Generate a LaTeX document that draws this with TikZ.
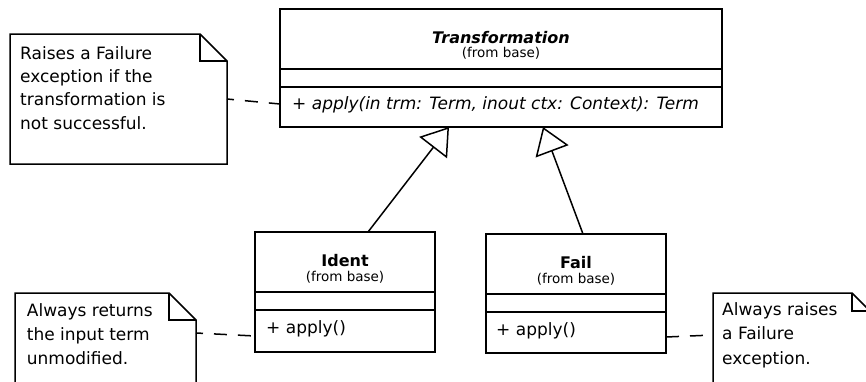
\documentclass[tikz,border=0pt]{standalone}
\usepackage{fontspec}
\setmainfont{DejaVu Sans}
\usetikzlibrary{arrows.meta}

\tikzset{
  umlline/.style={line width=1.5pt, line join=miter},
  part/.style={draw, umlline, inner sep=0pt, outer sep=0pt, minimum width=#1},
  notebox/.style={inner sep=0pt, outer sep=0pt, anchor=north west},
  classtitle/.style={inner sep=0pt, font=\fontsize{16}{19}\selectfont\bfseries},
  fromtext/.style={inner sep=0pt, font=\fontsize{13.5}{16}\selectfont},
  optext/.style={inner sep=0pt, anchor=base west, font=\fontsize{17}{20}\selectfont},
  notetext/.style={inner sep=0pt, anchor=north west, align=left},
  anchorline/.style={umlline, dash pattern=on 13pt off 11pt},
  inherit/.style={umlline, -{Triangle[open, length=26pt, width=35pt, fill=white]}},
}

% draws a note outline with a folded corner of size #2 around node #1
\newcommand{\noteoutline}[2]{%
  \draw[umlline] (#1.north west) -- ([xshift=-#2]#1.north east)
    -- ([yshift=-#2]#1.north east) -- (#1.south east) -- (#1.south west) -- cycle;
  \draw[umlline] ([xshift=-#2]#1.north east) |- ([yshift=-#2]#1.north east);
}

\begin{document}
\begin{tikzpicture}[x=1pt, y=-1pt]
\useasboundingbox (0,0) rectangle (866,381);
\clip (0,0) rectangle (866,381);

% ---- class Transformation ----
\node[part=442pt, minimum height=60pt, anchor=north west] (tname) at (280,9) {};
\node[part=442pt, minimum height=18pt, anchor=north] (tattr) at (tname.south) {};
\node[part=442pt, minimum height=40pt, anchor=north] (tops) at (tattr.south) {};
\node[classtitle, anchor=base] at ([yshift=-34pt]tname.north) {\textit{Transformation}};
\node[fromtext, anchor=base] at ([yshift=-48.5pt]tname.north) {(from base)};
\node[optext] at ([shift={(12pt,-22.5pt)}]tops.north west)
  {\textit{+ apply(in trm: Term, inout ctx: Context): Term}};

% ---- class Ident ----
\node[part=180pt, minimum height=60pt, anchor=north west] (iname) at (255,232) {};
\node[part=180pt, minimum height=18pt, anchor=north] (iattr) at (iname.south) {};
\node[part=180pt, minimum height=42pt, anchor=north] (iops) at (iattr.south) {};
\node[classtitle, anchor=base] at ([yshift=-34pt]iname.north) {Ident};
\node[fromtext, anchor=base] at ([yshift=-49pt]iname.north) {(from base)};
\node[optext] at ([shift={(11pt,-23.5pt)}]iops.north west) {+ apply()};

% ---- class Fail ----
\node[part=180pt, minimum height=60pt, anchor=north west] (fname) at (486,234) {};
\node[part=180pt, minimum height=18pt, anchor=north] (fattr) at (fname.south) {};
\node[part=180pt, minimum height=41pt, anchor=north] (fops) at (fattr.south) {};
\node[classtitle, anchor=base] at ([yshift=-34pt]fname.north) {Fail};
\node[fromtext, anchor=base] at ([yshift=-49pt]fname.north) {(from base)};
\node[optext] at ([shift={(10pt,-23.5pt)}]fops.north west) {+ apply()};

% ---- notes ----
\node[notebox, minimum width=217pt, minimum height=130pt] (noteA) at (10,34) {};
\noteoutline{noteA}{27pt}
\node[notetext, font=\fontsize{17}{23.3}\selectfont] at ([shift={(10pt,-8.7pt)}]noteA.north west)
  {\strut Raises a Failure\\exception if the\\transformation is\\not successful.};

\node[notebox, minimum width=181pt, minimum height=120pt] (noteB) at (15,293) {};
\noteoutline{noteB}{27pt}
\node[notetext, font=\fontsize{17}{24.3}\selectfont] at ([shift={(11.7pt,-6pt)}]noteB.north west)
  {\strut Always returns\\the input term\\unmodified.};

\node[notebox, minimum width=157pt, minimum height=120pt] (noteC) at (713,293) {};
\noteoutline{noteC}{18pt}
\node[notetext, font=\fontsize{17}{24.3}\selectfont] at ([shift={(9pt,-5.3pt)}]noteC.north west)
  {\strut Always raises\\a Failure\\exception.};

% ---- generalisations ----
\draw[inherit] ([xshift=23pt]iname.north) -- ([xshift=-52pt]tops.south);
\draw[inherit] ([xshift=7pt]fname.north) -- ([xshift=42pt]tops.south);

% ---- note anchors ----
\draw[anchorline, dash phase=6pt] (noteA.east) -- ([yshift=3pt]tops.west);
\draw[anchorline, dash phase=6pt] ([yshift=-40pt]noteB.north east) -- ([yshift=-5pt]iops.west);
\draw[anchorline] ([yshift=-4.5pt]fops.east) -- ([yshift=-42pt]noteC.north west);
\end{tikzpicture}
\end{document}
